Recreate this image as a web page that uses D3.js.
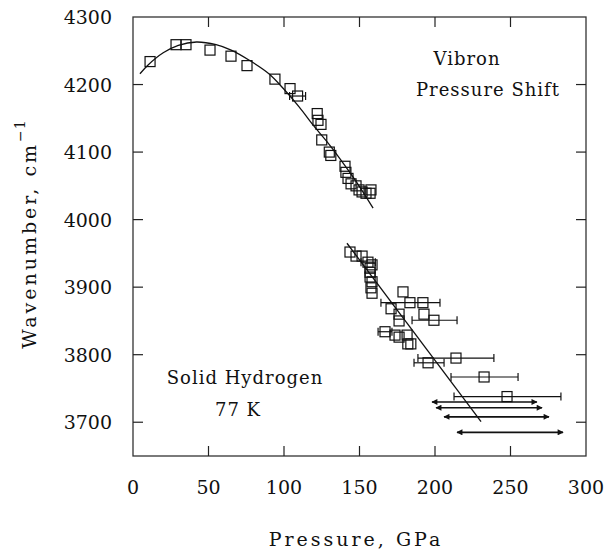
<!DOCTYPE html>
<html>
<head>
<meta charset="utf-8">
<script src="https://cdn.jsdelivr.net/npm/d3@7"></script>
<style>
body { margin: 0; background: #fff; }
text { font-family: "DejaVu Serif", "Liberation Serif", serif; fill: #111; }
</style>
</head>
<body>
<svg id="svg0" width="608" height="552"></svg>
<script>
// low pressure branch (pressure GPa, wavenumber cm-1)
var low_p = [11.3, 28.5, 35.1, 51, 64.9, 75.5, 94, 104, 109, 122, 122.5, 124.5, 125, 130, 131,
	140.4, 141, 142.4, 144.4, 147.7, 149.7, 151.7, 154.3, 157, 157.6];
var low_w = [4234, 4259, 4259, 4251, 4242, 4228, 4208, 4194, 4183, 4157, 4147, 4141, 4118, 4100, 4095,
	4079, 4070, 4061, 4053, 4050, 4044, 4041, 4039, 4039, 4044];

// high pressure branch
var high_p = [143.7, 147.7, 151.7, 155.6, 158.3, 157, 157, 157, 158.3, 157.6, 158.3, 178.8, 183.4, 192,
	170.9, 176.2, 176.2, 192.7, 199.3, 166.9, 173.5, 176.2, 181.5, 182, 184, 195.4, 213.9, 232.5, 247.7];
var high_w = [3952, 3946, 3946, 3937, 3933, 3928, 3922, 3915, 3908, 3899, 3891, 3893, 3877, 3877,
	3868, 3860, 3850, 3860, 3851, 3834, 3829, 3826, 3829, 3816, 3816, 3788, 3795, 3767, 3738];

// horizontal error bars: wavenumber, pressure low, pressure high
var err_w  = [4183, 3937, 3877, 3851, 3834, 3795, 3788, 3767, 3738];
var err_lo = [103.7, 151, 164.2, 184.8, 162.3, 188.7, 186.1, 210.6, 212.6];
var err_hi = [114.3, 160.5, 203.3, 214.6, 171.5, 239, 206, 255, 283.4];

// pressure ranges shown as double arrows
var arrow_w  = [3730, 3721.5, 3708, 3685];
var arrow_lo = [198, 200.7, 206, 214.6];
var arrow_hi = [267.5, 270.9, 275.5, 284.8];

// drawn fit lines
var fit1_p = [4.6, 10, 20, 30, 42, 55, 65, 77, 90, 100, 110, 120, 130, 140, 150, 159];
var fit1_w = [4216, 4229, 4247, 4258, 4263, 4259, 4251, 4236, 4216, 4193, 4167, 4138, 4111, 4081, 4049, 4017];
var fit2_p = [141.7, 230.5];
var fit2_w = [3965, 3701];

var x_ticks = [0, 50, 100, 150, 200, 250, 300];
var y_ticks = [3700, 3800, 3900, 4000, 4100, 4200, 4300];

var svg0 = d3.select('#svg0');
var m_left = 133, m_right = 586, m_top = 17, m_bottom = 456;
var tick_len = 10;

var x = d3.scaleLinear().domain([0, 300]).range([m_left, m_right]);
var y = d3.scaleLinear().domain([3650, 4300]).range([m_bottom, m_top]);

// frame
svg0.append('rect').attr('x', m_left).attr('y', m_top).attr('width', m_right-m_left).attr('height', m_bottom-m_top)
	.attr('fill', 'none').attr('stroke', '#333').attr('stroke-width', 1.3)

// inward ticks on all four sides
var ax = svg0.append('g').attr('stroke', '#222').attr('stroke-width', 1.2);
x_ticks.slice(1, -1).forEach(t => {
	ax.append('line').attr('x1', x(t)).attr('x2', x(t)).attr('y1', m_bottom).attr('y2', m_bottom-tick_len);
	ax.append('line').attr('x1', x(t)).attr('x2', x(t)).attr('y1', m_top).attr('y2', m_top+tick_len);
});
y_ticks.slice(0, -1).forEach(t => {
	ax.append('line').attr('x1', m_left).attr('x2', m_left+tick_len).attr('y1', y(t)).attr('y2', y(t));
	ax.append('line').attr('x1', m_right).attr('x2', m_right-tick_len).attr('y1', y(t)).attr('y2', y(t));
});

svg0.selectAll('.xlab').data(x_ticks).enter().append('text').attr('class', 'xlab')
	.attr('x', d => x(d)).attr('y', 494).attr('text-anchor', 'middle')
	.attr('font-size', 19).text(d => d)
svg0.selectAll('.ylab').data(y_ticks).enter().append('text').attr('class', 'ylab')
	.attr('x', 112).attr('y', d => y(d)+7).attr('text-anchor', 'end')
	.attr('font-size', 19).text(d => d)

svg0.append('text').attr('x', 356).attr('y', 546).attr('text-anchor', 'middle')
	.attr('font-size', 19).attr('letter-spacing', 3).text('Pressure, GPa')

var ylab = svg0.append('text').attr('transform', 'translate(36,234) rotate(-90)')
	.attr('text-anchor', 'middle').attr('font-size', 19).attr('letter-spacing', 3);
ylab.append('tspan').text('Wavenumber, cm');
ylab.append('tspan').attr('dy', -11).attr('font-size', 14).attr('letter-spacing', 1).text('\u22121');

// annotations
svg0.append('text').attr('x', 467).attr('y', 65).attr('text-anchor', 'middle')
	.attr('font-size', 18).attr('letter-spacing', 1).text('Vibron')
svg0.append('text').attr('x', 488).attr('y', 96).attr('text-anchor', 'middle')
	.attr('font-size', 18).attr('letter-spacing', 1).text('Pressure Shift')
svg0.append('text').attr('x', 245).attr('y', 384).attr('text-anchor', 'middle')
	.attr('font-size', 18).attr('letter-spacing', 1).text('Solid Hydrogen')
svg0.append('text').attr('x', 238).attr('y', 416).attr('text-anchor', 'middle')
	.attr('font-size', 18).attr('letter-spacing', 1).text('77 K')

// fit lines
svg0.append('path').datum(d3.zip(fit1_p, fit1_w))
	.attr('d', d3.line().x(d => x(d[0])).y(d => y(d[1])).curve(d3.curveCatmullRom))
	.attr('fill', 'none').attr('stroke', '#111').attr('stroke-width', 1.3)
svg0.append('path').datum(d3.zip(fit2_p, fit2_w))
	.attr('d', d3.line().x(d => x(d[0])).y(d => y(d[1])))
	.attr('fill', 'none').attr('stroke', '#111').attr('stroke-width', 1.3)

// error bars
var eb = svg0.append('g').attr('stroke', '#111').attr('stroke-width', 1.2);
err_w.forEach((w, i) => {
	eb.append('line').attr('x1', x(err_lo[i])).attr('x2', x(err_hi[i])).attr('y1', y(w)).attr('y2', y(w));
	[err_lo[i], err_hi[i]].forEach(p => {
		eb.append('line').attr('x1', x(p)).attr('x2', x(p)).attr('y1', y(w)-4).attr('y2', y(w)+4);
	});
});

// double arrows
svg0.append('defs').append('marker').attr('id', 'head')
	.attr('viewBox', '0 0 10 10').attr('refX', 9).attr('refY', 5)
	.attr('markerWidth', 9).attr('markerHeight', 6).attr('markerUnits', 'userSpaceOnUse')
	.attr('orient', 'auto-start-reverse')
	.append('path').attr('d', 'M0,0 L10,5 L0,10 z').attr('fill', '#111')
svg0.selectAll('.arrow').data(arrow_w).enter().append('line').attr('class', 'arrow')
	.attr('x1', (d, i) => x(arrow_lo[i])).attr('x2', (d, i) => x(arrow_hi[i]))
	.attr('y1', d => y(d)).attr('y2', d => y(d))
	.attr('stroke', '#111').attr('stroke-width', 1.6)
	.attr('marker-start', 'url(#head)').attr('marker-end', 'url(#head)')

// squares
var sq = 10;
var all_pts = d3.zip(low_p, low_w).concat(d3.zip(high_p, high_w));
svg0.selectAll('.pt').data(all_pts).enter().append('rect').attr('class', 'pt')
	.attr('x', d => x(d[0])-sq/2).attr('y', d => y(d[1])-sq/2)
	.attr('width', sq).attr('height', sq)
	.attr('fill', 'none').attr('stroke', '#111').attr('stroke-width', 1.2)
</script>
</body>
</html>
